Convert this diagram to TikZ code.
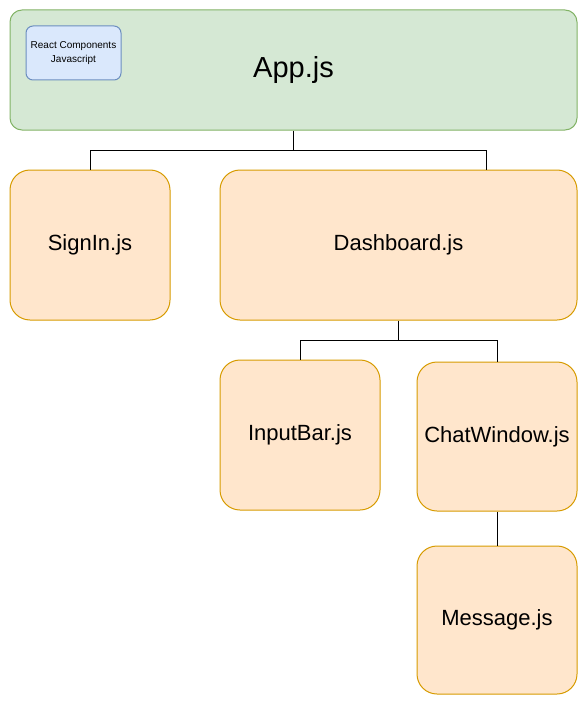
\documentclass[tikz,border=0pt]{standalone}
\usepackage{fontspec}
\setmainfont{Liberation Sans}
\usepackage{tikz}
\usepackage{xcolor}
\definecolor{appfill}{HTML}{D5E8D4}
\definecolor{appline}{HTML}{82B366}
\definecolor{compfill}{HTML}{FFE6CC}
\definecolor{compline}{HTML}{D79B00}
\definecolor{keyfill}{HTML}{DAE8FC}
\definecolor{keyline}{HTML}{6C8EBF}
\tikzstyle{appbox} = [draw=appline, fill=appfill, line width=1pt, rectangle, rounded corners=12pt, font=\fontsize{29}{34}\selectfont]
\tikzstyle{compbox} = [draw=compline, fill=compfill, line width=1pt, rectangle, rounded corners=20pt, font=\fontsize{22}{26}\selectfont]
\tikzstyle{keybox} = [draw=keyline, fill=keyfill, line width=1pt, rectangle, rounded corners=7pt, align=center, font=\fontsize{10}{14}\selectfont]
\tikzstyle{link} = [line width=1pt, black]

\begin{document}
\begin{tikzpicture}[x=1pt, y=-1pt]
\useasboundingbox (0,0) rectangle (587,706);
\node [appbox, minimum width=567pt, minimum height=120pt] (app) at (293.5,70) {App.js};
\node [keybox, minimum width=95pt, minimum height=54pt] (key) at (73.5,53) {React Components\\Javascript};
\node [compbox, minimum width=160pt, minimum height=150pt] (signin) at (90,245) {SignIn.js};
\node [compbox, minimum width=357pt, minimum height=150pt] (dashboard) at (398.5,245) {Dashboard.js};
\node [compbox, minimum width=160pt, minimum height=150pt] (inputbar) at (300,435) {InputBar.js};
\node [compbox, minimum width=160pt, minimum height=149pt] (chatwindow) at (497,436.5) {ChatWindow.js};
\node [compbox, minimum width=160pt, minimum height=148pt] (message) at (497,620) {Message.js};
% joints of the tree
\coordinate (appjoint) at (293.5,150);
\coordinate (dashin) at (486,170);
\coordinate (dashjoint) at (398.5,340);
\draw [link] (app.south) -- (appjoint) -| (signin.north);
\draw [link] (appjoint) -| (dashin);
\draw [link] (dashboard.south) -- (dashjoint) -| (inputbar.north);
\draw [link] (dashjoint) -| (chatwindow.north);
\draw [link] (chatwindow.south) -- (message.north);
\end{tikzpicture}
\end{document}
